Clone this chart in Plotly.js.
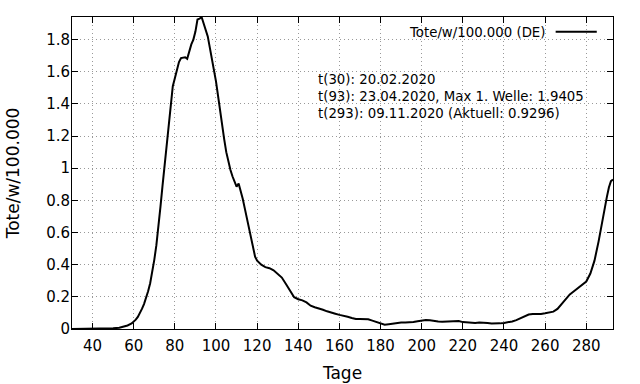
<!DOCTYPE html>
<html>
<head>
<meta charset="utf-8">
<script src="https://cdn.plot.ly/plotly-3.0.1.min.js"></script>
<style>html,body{margin:0;padding:0;background:#fff;}#chart{width:640px;height:384px;}</style>
</head>
<body>
<div id="chart"></div>
<script>
const days = [30,40,45,50,53,55,57,59,60,61,62,63,64,65,66,67,68,69,70,71,72,73,74,75,76,77,78,79,80,81,82,83,84,85,86,87,88,89,90,91,92,93,94,95,96,97,98,99,100,101,102,103,104,105,106,107,108,109,110,111,112,113,114,115,116,117,118,119,120,121,122,124,126,128,130,132,134,136,138,140,142,144,146,148,150,152,154,156,158,160,162,164,166,168,170,172,174,176,178,180,182,184,186,188,190,192,194,196,198,200,202,204,206,208,210,212,214,216,218,220,222,224,226,228,230,232,234,236,238,240,242,244,246,248,250,252,254,256,258,260,262,264,266,268,270,272,274,276,278,280,282,284,286,288,290,291,292,293];
const deaths = [0,0,0.001,0.004,0.008,0.013,0.022,0.034,0.045,0.058,0.075,0.098,0.125,0.155,0.19,0.235,0.285,0.35,0.43,0.52,0.63,0.76,0.89,1.02,1.15,1.29,1.41,1.51,1.56,1.61,1.66,1.685,1.69,1.69,1.68,1.73,1.77,1.80,1.85,1.925,1.93,1.9405,1.90,1.86,1.82,1.75,1.68,1.63,1.54,1.45,1.35,1.27,1.18,1.10,1.04,0.99,0.95,0.92,0.885,0.905,0.86,0.81,0.75,0.69,0.63,0.57,0.51,0.45,0.425,0.41,0.40,0.385,0.378,0.365,0.345,0.32,0.28,0.24,0.198,0.185,0.178,0.165,0.145,0.135,0.125,0.12,0.11,0.10,0.095,0.088,0.083,0.076,0.068,0.062,0.062,0.062,0.06,0.052,0.045,0.035,0.027,0.03,0.034,0.038,0.04,0.04,0.04,0.043,0.048,0.052,0.056,0.055,0.05,0.046,0.045,0.046,0.048,0.052,0.05,0.043,0.04,0.038,0.038,0.04,0.041,0.038,0.034,0.033,0.035,0.038,0.042,0.047,0.055,0.066,0.078,0.09,0.093,0.093,0.094,0.098,0.103,0.108,0.125,0.155,0.188,0.215,0.235,0.255,0.278,0.295,0.345,0.425,0.545,0.69,0.82,0.88,0.92,0.9296];
const xTicks = [40,60,80,100,120,140,160,180,200,220,240,260,280];
const yTicks = [0,0.2,0.4,0.6,0.8,1,1.2,1.4,1.6,1.8];
const yTickText = ["0","0.2","0.4","0.6","0.8","1","1.2","1.4","1.6","1.8"];
const seriesName = "Tote/w/100.000 (DE)";
const infoLines = ["t(30): 20.02.2020","t(93): 23.04.2020, Max 1. Welle: 1.9405","t(293): 09.11.2020 (Aktuell: 0.9296)"];

const font = "DejaVu Sans, sans-serif";
const trace = {x: days, y: deaths, type: "scatter", mode: "lines", name: seriesName,
  line: {color: "#000000", width: 2}, showlegend: false, hoverinfo: "skip"};

const axisCommon = {showline: true, linecolor: "#000", linewidth: 1, mirror: "allticks",
  ticks: "inside", ticklen: 6, tickcolor: "#000", tickwidth: 1,
  showgrid: true, gridcolor: "#999999", griddash: "1px,3px", gridwidth: 1, zeroline: false,
  tickfont: {family: font, size: 15, color: "#000"}};

const infoY = [0.799, 0.745, 0.690];
const annotations = infoLines.map((t, i) => ({text: t, xref: "paper", yref: "paper",
  x: 0.4505, y: infoY[i], xanchor: "left", yanchor: "middle", showarrow: false,
  font: {family: font, size: 13.3, color: "#000"}}));
annotations.push({text: seriesName, xref: "paper", yref: "paper", x: 0.8775, y: 0.9497,
  xanchor: "right", yanchor: "middle", showarrow: false, font: {family: font, size: 13.3, color: "#000"}});

const layout = {
  width: 640, height: 384,
  margin: {l: 72, r: 27, t: 17, b: 55, pad: 0},
  paper_bgcolor: "#fff", plot_bgcolor: "#fff",
  xaxis: Object.assign({}, axisCommon, {range: [30, 293], tickmode: "array", tickvals: xTicks,
    ticklabelstandoff: 3,
    title: {text: "Tage", font: {family: font, size: 17, color: "#000"}, standoff: 13}}),
  yaxis: Object.assign({}, axisCommon, {range: [0, 1.9405], tickmode: "array", tickvals: yTicks, ticktext: yTickText,
    ticklabelstandoff: -2,
    title: {text: "Tote/w/100.000", font: {family: font, size: 17, color: "#000"}, standoff: 22}}),
  annotations: annotations,
  shapes: [{type: "line", xref: "paper", yref: "paper", x0: 0.894, x1: 0.970, y0: 0.953, y1: 0.953,
    line: {color: "#000", width: 2}}]
};
Plotly.newPlot("chart", [trace], layout, {staticPlot: true, displayModeBar: false});
</script>
</body>
</html>
